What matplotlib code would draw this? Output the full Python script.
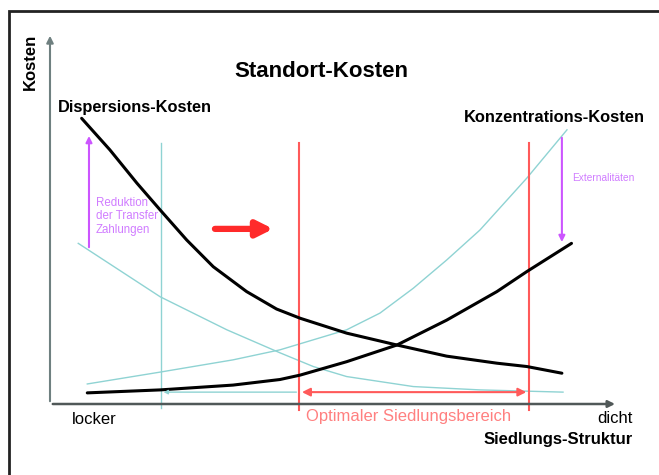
import matplotlib
matplotlib.use("Agg")
import matplotlib.pyplot as plt
from matplotlib.patches import Rectangle

plt.rcParams['font.family'] = ['Liberation Sans', 'DejaVu Sans']

# Dispersions-Kosten (schwarz, fallend)
disp_x = [5.6, 10.6, 15.4, 19.5, 24.2, 28.9, 34.8, 40.1, 44.3, 52.5, 61.4,
          70.2, 79.1, 84.4, 90.6]
disp_y = [77.0, 68.5, 59.5, 52.3, 44.2, 37.0, 30.3, 25.6, 23.1, 19.1, 15.9,
          12.9, 11.0, 10.1, 8.3]

# Konzentrations-Kosten (schwarz, steigend)
konz_x = [6.6, 19.5, 32.4, 40.7, 44.3, 52.5, 61.4, 70.2, 79.1, 84.4, 92.3]
konz_y = [3.0, 3.8, 5.1, 6.6, 7.8, 11.4, 15.9, 22.6, 30.3, 35.7, 43.3]

# alte Kurven (türkis)
alt_disp_x = [5.0, 19.5, 31.3, 40.7, 46.6, 52.5, 64.3, 76.1, 90.8]
alt_disp_y = [43.3, 28.9, 20.0, 13.8, 10.1, 7.4, 4.7, 3.8, 3.2]
alt_konz_x = [6.6, 19.5, 32.4, 40.7, 46.6, 52.5, 58.4, 64.3, 70.2, 76.1,
              84.4, 91.5]
alt_konz_y = [5.4, 8.6, 11.9, 14.6, 17.3, 20.0, 24.5, 31.2, 38.8, 46.9,
              60.9, 73.9]

# Grenzen
alt_grenze = 19.6
opt_bereich = [44.1, 84.8]

teal = '#8fd3d3'
red = '#ff5a5a'
purple = '#cc55ff'

fig = plt.figure(figsize=(6.59, 4.75), dpi=100)
fig.patches.append(Rectangle((9 / 659, -0.1), 0.99, 1.1 - 11 / 475,
                             transform=fig.transFigure, fill=False,
                             edgecolor='#222222', linewidth=2))
ax = fig.add_axes([50 / 659, 71 / 475, 565 / 659, 371 / 475])
ax.set_xlim(0, 100)
ax.set_ylim(0, 100)
ax.axis('off')

# Achsen
ax.annotate('', xy=(0, 100), xytext=(0, 0),
            arrowprops=dict(arrowstyle='-|>', color='#6f8080', lw=1.5,
                            mutation_scale=10), annotation_clip=False)
ax.annotate('', xy=(100.5, 0), xytext=(0, 0),
            arrowprops=dict(arrowstyle='-|>', color='#505858', lw=1.8,
                            mutation_scale=10), annotation_clip=False)

# türkise Hilfslinien
ax.plot(alt_disp_x, alt_disp_y, color=teal, lw=1)
ax.plot(alt_konz_x, alt_konz_y, color=teal, lw=1)
ax.plot([alt_grenze, alt_grenze], [-1.1, 70.4], color=teal, lw=1, clip_on=False)
ax.annotate('', xy=(alt_grenze, 3.2), xytext=(opt_bereich[0], 3.2),
            arrowprops=dict(arrowstyle='-|>', color=teal, lw=1,
                            mutation_scale=6))

# optimaler Bereich
for xv in opt_bereich:
    ax.plot([xv, xv], [-1.6, 70.4], color=red, lw=1.5, clip_on=False)
ax.annotate('', xy=(opt_bereich[0], 3.2), xytext=(opt_bereich[1], 3.2),
            arrowprops=dict(arrowstyle='<|-|>', color=red, lw=1.5,
                            mutation_scale=12))

# Kostenkurven
ax.plot(disp_x, disp_y, color='black', lw=2.2, solid_capstyle='round',
        solid_joinstyle='round')
ax.plot(konz_x, konz_y, color='black', lw=2.2, solid_capstyle='round',
        solid_joinstyle='round')

# großer Pfeil
ax.annotate('', xy=(40.0, 47.2), xytext=(28.7, 47.2),
            arrowprops=dict(arrowstyle='-|>', color='#ff2a2a', lw=4.5,
                            mutation_scale=24))

# lila Pfeile
ax.annotate('', xy=(6.9, 73.0), xytext=(6.9, 41.5),
            arrowprops=dict(arrowstyle='-|>', color=purple, lw=1.5,
                            mutation_scale=9))
ax.annotate('', xy=(90.6, 42.9), xytext=(90.6, 72.5),
            arrowprops=dict(arrowstyle='-|>', color=purple, lw=1.5,
                            mutation_scale=9))

# Texte
ax.text(-3.5, 92.2, 'Kosten', rotation=90, ha='center', va='center',
        fontsize=12, fontweight='bold', clip_on=False)
ax.text(48.1, 89.5, 'Standort-Kosten', ha='center', va='center',
        fontsize=16, fontweight='bold')
ax.text(1.4, 79.8, 'Dispersions-Kosten', ha='left', va='center',
        fontsize=11.8, fontweight='bold')
ax.text(105.3, 77.1, 'Konzentrations-Kosten', ha='right', va='center',
        fontsize=11.9, fontweight='bold', clip_on=False)
ax.text(7.8, -4.3, 'locker', ha='center', va='center', fontsize=12,
        clip_on=False)
ax.text(100, -3.8, 'dicht', ha='center', va='center', fontsize=12,
        clip_on=False)
ax.text(103.2, -9.7, 'Siedlungs-Struktur', ha='right', va='center',
        fontsize=12, fontweight='bold', clip_on=False)
ax.text(63.5, -3.5, 'Optimaler Siedlungsbereich', ha='center', va='center',
        fontsize=12, color='#ff8080', clip_on=False)
ax.text(8.1, 55.8, 'Reduktion\nder Transfer\nZahlungen', ha='left', va='top',
        fontsize=8.3, color='#d07cff', linespacing=1.15)
ax.text(92.4, 60.9, 'Externalitäten', ha='left', va='center',
        fontsize=7.3, color='#d07cff', clip_on=False)

fig.savefig('out.png', dpi=100)
